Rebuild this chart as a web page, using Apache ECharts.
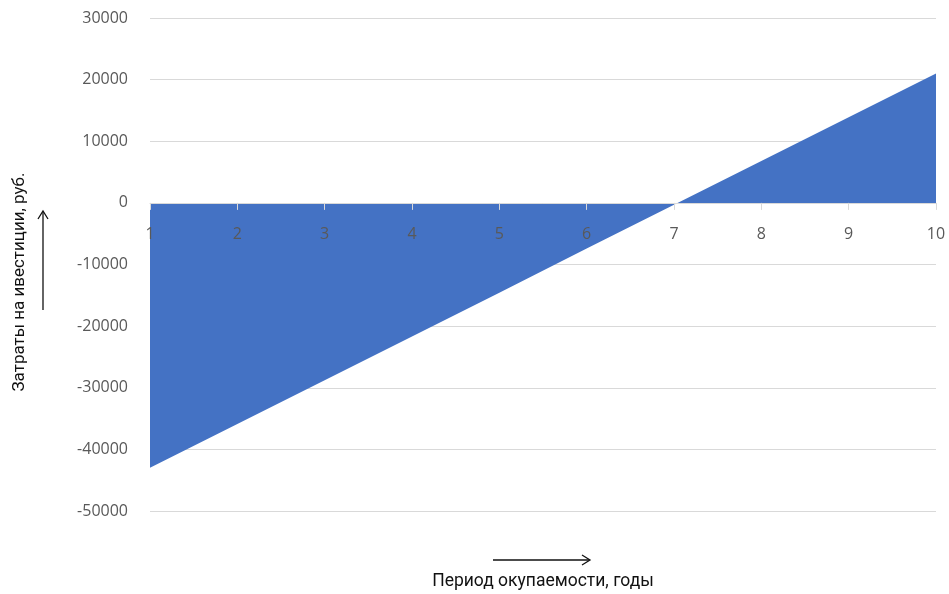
<!DOCTYPE html>
<html><head><meta charset="utf-8">
<script src="https://cdn.jsdelivr.net/npm/echarts@6/dist/echarts.min.js"></script>
<style>html,body{margin:0;padding:0;background:#fff}#c{width:949px;height:594px}</style>
</head><body><div id="c"></div>
<script>
const years = ['1','2','3','4','5','6','7','8','9','10'];
const values = [-43000,-35900,-28800,-21700,-14600,-7400,-300,6800,13900,21000];
const yMin = -50000, yMax = 30000, yStep = 10000;
const xTitle = 'Период окупаемости, годы';
const yTitle = 'Затраты на ивестиции, руб.';

const gTop = 18, gBottom = 83, H = 594;
const plotH = H - gTop - gBottom;
const zeroOffset = -plotH * (0 - yMin) / (yMax - yMin);

const chart = echarts.init(document.getElementById('c'));
chart.setOption({
  animation:false,
  grid:{left:150,right:13,top:gTop,bottom:gBottom},
  xAxis:{type:'category',data:years,boundaryGap:false,z:3,offset:zeroOffset,
    axisLine:{onZero:false,lineStyle:{color:'#d9d9d9',width:1}},
    axisTick:{show:true,length:7,lineStyle:{color:'#d9d9d9'}},
    axisLabel:{margin:24,color:'#595959',fontSize:16,fontFamily:'Open Sans'},
    splitLine:{show:false}},
  yAxis:{type:'value',min:yMin,max:yMax,interval:yStep,
    axisLine:{show:false},axisTick:{show:false},
    axisLabel:{margin:22,color:'#595959',fontSize:16,fontFamily:'Open Sans',formatter:v=>String(v)},
    splitLine:{lineStyle:{color:'#d9d9d9',width:1}}},
  series:[{type:'line',data:values,symbol:'none',
    lineStyle:{width:0},
    areaStyle:{color:'#4472c4',opacity:1,origin:0}}],
  graphic:[
    {type:'text',position:[543,582],style:{text:xTitle,fill:'#111',font:'17.5px Roboto',textAlign:'center',textVerticalAlign:'middle'}},
    {type:'line',shape:{x1:493,y1:560,x2:589,y2:560},style:{stroke:'#111',lineWidth:1.3}},
    {type:'polyline',shape:{points:[[582,555],[590,560],[582,565]]},style:{stroke:'#111',lineWidth:1.3,fill:null}},
    {type:'text',rotation:Math.PI/2,position:[20,282],style:{text:yTitle,fill:'#111',font:'17px Roboto',textAlign:'center',textVerticalAlign:'middle'}},
    {type:'line',shape:{x1:43,y1:310,x2:43,y2:212},style:{stroke:'#111',lineWidth:1.3}},
    {type:'polyline',shape:{points:[[38,219],[43,211],[48,219]]},style:{stroke:'#111',lineWidth:1.3,fill:null}}
  ]
});
</script></body></html>
